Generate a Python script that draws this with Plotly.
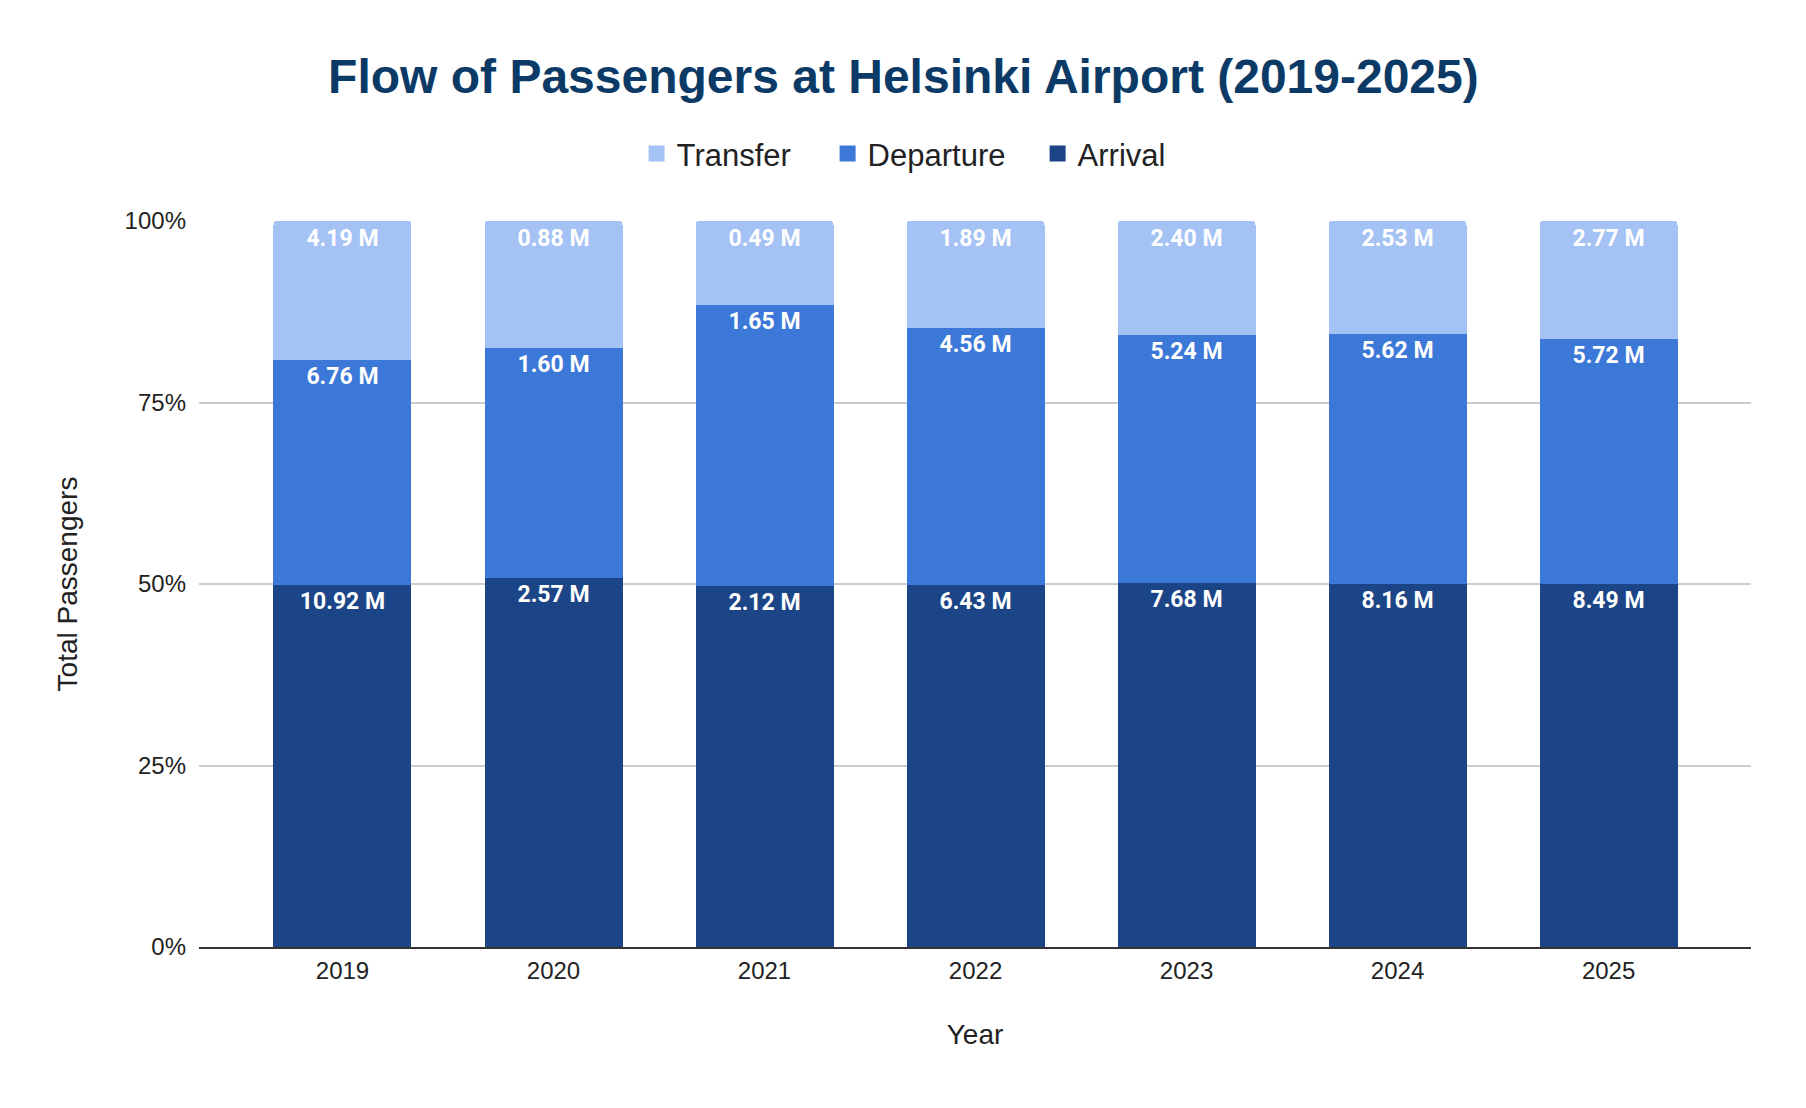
import plotly.graph_objects as go

years = ["2019", "2020", "2021", "2022", "2023", "2024", "2025"]
arrival = [10.92, 2.57, 2.12, 6.43, 7.68, 8.16, 8.49]
departure = [6.76, 1.60, 1.65, 4.56, 5.24, 5.62, 5.72]
transfer = [4.19, 0.88, 0.49, 1.89, 2.40, 2.53, 2.77]
y_tick_vals = [0, 25, 50, 75, 100]
y_tick_text = ["0%", "25%", "50%", "75%", "100%"]

series = [
    ("Arrival", arrival, "#1c4587"),
    ("Departure", departure, "#3c78d8"),
    ("Transfer", transfer, "#a4c2f4"),
]
legend_widths = {"Transfer": 146, "Departure": 165, "Arrival": None}

fig = go.Figure()
for name, vals, color in series:
    fig.add_trace(go.Bar(
        x=years, y=vals, name=name, marker_color=color,
        marker_line_width=0,
        text=[f"{v:.2f} M" for v in vals],
        textposition="inside", insidetextanchor="end",
        textangle=0, constraintext="none",
        textfont=dict(family="Roboto", size=23, color="white", weight="bold"),
        showlegend=False,
        hovertemplate="%{x}<br>" + name + ": %{text}<extra></extra>",
    ))

# legend entries (larger square symbols)
for name, vals, color in reversed(series):
    kw = {}
    if legend_widths[name]:
        kw["legendwidth"] = legend_widths[name]
    fig.add_trace(go.Scatter(
        x=[None], y=[None], mode="markers", name=name,
        marker=dict(symbol="square", size=16, color=color),
        showlegend=True, hoverinfo="skip", **kw,
    ))

fig.update_layout(
    template="none",
    barmode="stack", barnorm="percent", bargap=0.346,
    barcornerradius=4,
    width=1806, height=1108,
    margin=dict(l=191, r=63, t=213, b=169),
    paper_bgcolor="white", plot_bgcolor="white",
    title=dict(
        text="<b>Flow of Passengers at Helsinki Airport (2019-2025)</b>",
        x=0.4958, xanchor="center", y=1 - 68 / 1108, yanchor="middle",
        font=dict(family="Liberation Sans, Arial", size=48, color="#0b3a66"),
    ),
    legend=dict(
        orientation="h", x=0.454, xanchor="center", y=1.0925, yanchor="middle",
        font=dict(family="Liberation Sans, Arial", size=31, color="#222222"),
        itemsizing="trace", traceorder="normal",
        bgcolor="rgba(0,0,0,0)",
    ),
    font=dict(family="Liberation Sans, Arial", color="#222222"),
)

fig.update_xaxes(
    type="category", range=[-0.68, 6.675], automargin=False,
    showgrid=False, showline=True, linecolor="#333333", linewidth=2,
    ticks="",
    tickfont=dict(family="Liberation Sans, Arial", size=24, color="#222222"),
    ticklabelstandoff=1,
    title=dict(text="Year", standoff=42,
               font=dict(family="Liberation Sans, Arial", size=28, color="#222222")),
)
fig.update_yaxes(
    range=[0, 100], tickvals=y_tick_vals, ticktext=y_tick_text, automargin=False,
    showgrid=True, gridcolor="#cccccc", gridwidth=2,
    zeroline=False, showline=False, ticks="",
    tickfont=dict(family="Liberation Sans, Arial", size=24, color="#222222"),
    ticklabelstandoff=12,
    title=dict(text="Total Passengers", standoff=38,
               font=dict(family="Liberation Sans, Arial", size=28, color="#222222")),
)

fig.write_html("out.html")
